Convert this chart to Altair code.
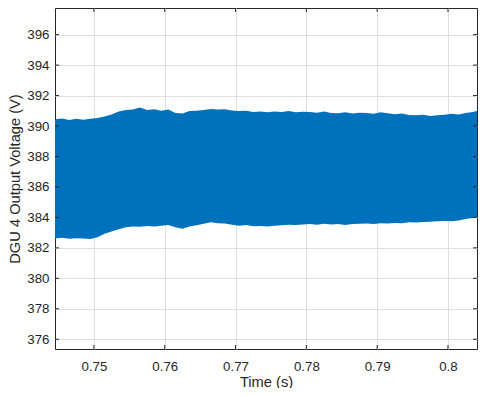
import altair as alt
import pandas as pd

# Envelope of the oscillating DGU 4 output voltage
time_s = [0.7445, 0.7455, 0.7465, 0.7475, 0.7485, 0.7495, 0.7505, 0.7515, 0.7525, 0.7535,
          0.7545, 0.7555, 0.7565, 0.7575, 0.7585, 0.7595, 0.7605, 0.7615, 0.7625, 0.7635,
          0.7645, 0.7655, 0.7665, 0.7675, 0.7685, 0.7695, 0.7705, 0.7715, 0.7725, 0.7735,
          0.7745, 0.7755, 0.7765, 0.7775, 0.7785, 0.7795, 0.7805, 0.7815, 0.7825, 0.7835,
          0.7845, 0.7855, 0.7865, 0.7875, 0.7885, 0.7895, 0.7905, 0.7915, 0.7925, 0.7935,
          0.7945, 0.7955, 0.7965, 0.7975, 0.7985, 0.7995, 0.8005, 0.8015, 0.8025, 0.8035,
          0.8041]
upper_v = [390.45, 390.50, 390.40, 390.48, 390.42, 390.47, 390.52, 390.62, 390.75, 390.95,
           391.05, 391.08, 391.22, 391.05, 391.10, 391.00, 391.08, 390.85, 390.82, 390.98,
           391.00, 391.05, 391.12, 391.08, 391.10, 391.02, 390.98, 391.00, 390.92, 390.95,
           390.90, 390.96, 390.92, 390.98, 390.90, 390.94, 390.92, 390.88, 390.95, 390.86,
           390.84, 390.90, 390.82, 390.88, 390.85, 390.80, 390.90, 390.84, 390.78, 390.82,
           390.72, 390.70, 390.74, 390.66, 390.70, 390.74, 390.80, 390.76, 390.85, 390.92,
           390.98]
lower_v = [382.62, 382.66, 382.60, 382.64, 382.62, 382.58, 382.70, 382.92, 383.08, 383.22,
           383.36, 383.40, 383.38, 383.44, 383.40, 383.46, 383.50, 383.35, 383.25, 383.40,
           383.48, 383.58, 383.68, 383.62, 383.60, 383.52, 383.45, 383.50, 383.42, 383.44,
           383.40, 383.46, 383.48, 383.52, 383.50, 383.54, 383.56, 383.52, 383.58, 383.54,
           383.56, 383.50, 383.56, 383.58, 383.60, 383.56, 383.62, 383.60, 383.64, 383.62,
           383.68, 383.66, 383.70, 383.72, 383.74, 383.76, 383.74, 383.80, 383.90, 383.96,
           384.02]

x_ticks = [0.75, 0.76, 0.77, 0.78, 0.79, 0.80]
y_ticks = [376, 378, 380, 382, 384, 386, 388, 390, 392, 394, 396]

x_domain = [0.7445, 0.8041]
y_domain = [375.36, 397.75]

W, H = 422, 341
FONT = "Liberation Sans"
TXT = "#262626"

df = pd.DataFrame({"t": time_s, "hi": upper_v, "lo": lower_v})
xt = pd.DataFrame({"t": x_ticks})
yt = pd.DataFrame({"v": y_ticks})

xs = alt.Scale(domain=x_domain, nice=False, zero=False)
ys = alt.Scale(domain=y_domain, nice=False, zero=False)

x_axis = alt.Axis(values=x_ticks, format="~g", title="Time (s)", grid=True,
                  tickSize=0, labelPadding=10, domain=False, labelOverlap=False,
                  titleY=33, titleBaseline="middle")
y_axis = alt.Axis(values=y_ticks, format="d", title="DGU 4 Output Voltage (V)", grid=True,
                  tickSize=0, labelPadding=6, domain=False, labelOverlap=False,
                  titleX=-40, titleY=H / 2, titleAngle=-90, titleBaseline="middle",
                  titleAlign="center")

band = alt.Chart(df).mark_area(color="#0072BD", opacity=1).encode(
    x=alt.X("t:Q", scale=xs, axis=x_axis),
    y=alt.Y("lo:Q", scale=ys, axis=y_axis),
    y2="hi:Q",
)

tick_style = dict(color=TXT, strokeWidth=1)
xb = alt.Chart(xt).mark_rule(**tick_style).encode(
    x=alt.X("t:Q", scale=xs, axis=x_axis), y=alt.value(H), y2=alt.value(H - 4))
xtop = alt.Chart(xt).mark_rule(**tick_style).encode(
    x=alt.X("t:Q", scale=xs, axis=x_axis), y=alt.value(0), y2=alt.value(4))
yl = alt.Chart(yt).mark_rule(**tick_style).encode(
    y=alt.Y("v:Q", scale=ys, axis=y_axis), x=alt.value(0), x2=alt.value(4))
yr = alt.Chart(yt).mark_rule(**tick_style).encode(
    y=alt.Y("v:Q", scale=ys, axis=y_axis), x=alt.value(W), x2=alt.value(W - 4))

chart = alt.layer(band, xb, xtop, yl, yr).properties(
    width=W, height=H,
    background="white",
    autosize=alt.AutoSizeParams(type="none"),
    padding={"left": 47, "top": 0, "right": 1, "bottom": 39},
).configure_view(
    stroke=TXT, strokeWidth=1
).configure_axis(
    gridColor="#dfdfdf", gridWidth=1,
    labelFont=FONT, labelFontSize=13.3, labelColor=TXT,
    titleFont=FONT, titleFontSize=14.67, titleColor=TXT, titleFontWeight="normal",
)

chart.save("out.html", embed_options={"renderer": "svg", "actions": False})
